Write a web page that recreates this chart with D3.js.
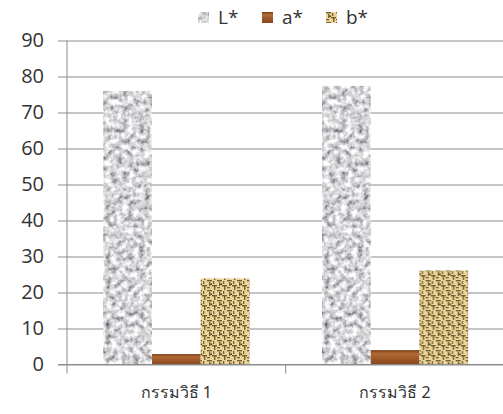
<!DOCTYPE html>
<html><head><meta charset="utf-8">
<script src="https://cdn.jsdelivr.net/npm/d3@7"></script>
<style>body{margin:0;background:#fff}svg{display:block}</style>
</head><body>
<script>
const categories = ["กรรมวิธี 1", "กรรมวิธี 2"];
const seriesNames = ["L*", "a*", "b*"];
const Lvalues = [76.0, 77.4];
const aValues = [2.9, 4.0];
const bValues = [23.9, 26.1];
const yTicks = [0,10,20,30,40,50,60,70,80,90];

const W = 503, H = 414;
const svg = d3.select("body").append("svg").attr("width", W).attr("height", H);
const defs = svg.append("defs");

// granite texture filter for L*
const fg = defs.append("filter").attr("id","granite").attr("x",0).attr("y",0).attr("width",1).attr("height",1).attr("filterUnits","objectBoundingBox");
fg.append("feTurbulence").attr("type","fractalNoise").attr("baseFrequency",0.18).attr("numOctaves",3).attr("seed",4).attr("result","n");
fg.append("feColorMatrix").attr("in","n").attr("type","matrix")
  .attr("values","1.5 0 0 0 -0.08  1.5 0 0 0 -0.08  1.5 0 0 0 -0.06  0 0 0 0 1").attr("result","g");
fg.append("feComposite").attr("in","g").attr("in2","SourceGraphic").attr("operator","in");

// brown gradient for a*
const gr = defs.append("linearGradient").attr("id","brown").attr("x1",0).attr("y1",0).attr("x2",0).attr("y2",1);
gr.append("stop").attr("offset","0%").attr("stop-color","#7a3d14");
gr.append("stop").attr("offset","25%").attr("stop-color","#b06a35");
gr.append("stop").attr("offset","60%").attr("stop-color","#9e5828");
gr.append("stop").attr("offset","100%").attr("stop-color","#8a4720");

// burlap pattern for b*
const pb = defs.append("pattern").attr("id","burlap").attr("patternUnits","userSpaceOnUse").attr("width",10).attr("height",10);
pb.append("rect").attr("width",10).attr("height",10).attr("fill","#ecd597");
const weave = [[0,0,5,1.4],[5,5,5,1.4],[2,2,1.4,4],[7,6,1.4,4],[0,7,3,1.3],[6,1,1.3,3]];
pb.selectAll("rect.w").data(weave).enter().append("rect").attr("class","w")
  .attr("x",d=>d[0]).attr("y",d=>d[1]).attr("width",d=>d[2]).attr("height",d=>d[3]).attr("fill","#5e4a26").attr("opacity",0.85);
pb.append("rect").attr("x",3.5).attr("y",3.5).attr("width",1.5).attr("height",1.5).attr("fill","#3a2e18");

const fills = {"L*": "#a8a8a8", "a*": "url(#brown)", "b*": "url(#burlap)"};
const filters = {"L*": "url(#granite)", "a*": null, "b*": null};

const y = d3.scaleLinear().domain([0,90]).range([364.5, 40.5]);
const x = d3.scaleBand().domain(categories).range([67, 504.4]).paddingInner(0).paddingOuter(0);
const bw = x.bandwidth();
const x1 = d3.scaleBand().domain(seriesNames).range([bw*0.166, bw*0.834]).padding(0);

// gridlines + y labels
const yAxis = d3.axisLeft(y).tickValues(yTicks).tickSize(-(W-58)).tickPadding(14);
const gy = svg.append("g").attr("transform","translate(58,0)").call(yAxis);
gy.select(".domain").remove();
gy.selectAll(".tick line").attr("stroke","#8c8c8c").attr("stroke-width",1);
gy.selectAll(".tick text").attr("font-family","'Open Sans', sans-serif").attr("font-size",20).attr("fill","#333");

// y axis line
svg.append("line").attr("x1",67).attr("x2",67).attr("y1",y(90)).attr("y2",y(0)+9).attr("stroke","#8c8c8c");

// bars
const rows = categories.map((c,i)=>({cat:c, vals:[Lvalues[i],aValues[i],bValues[i]]}));
const groups = svg.append("g").selectAll("g").data(rows).enter().append("g")
  .attr("transform", d=>`translate(${x(d.cat)},0)`);
groups.selectAll("rect").data(d=>seriesNames.map((s,j)=>({s, v:d.vals[j]}))).enter().append("rect")
  .attr("x", d=>x1(d.s)).attr("width", x1.bandwidth())
  .attr("y", d=>y(d.v)).attr("height", d=>y(0)-y(d.v))
  .attr("fill", d=>fills[d.s]).attr("filter", d=>filters[d.s]);

// x axis line and boundary ticks
svg.append("line").attr("x1",58).attr("x2",W).attr("y1",y(0)).attr("y2",y(0)).attr("stroke","#8c8c8c");
const bounds = categories.map(c=>x(c)).concat([x(categories[categories.length-1])+bw]);
svg.append("g").selectAll("line").data(bounds.slice(1)).enter().append("line")
  .attr("x1",d=>d).attr("x2",d=>d).attr("y1",y(0)).attr("y2",y(0)+9).attr("stroke","#8c8c8c");

// x labels
svg.append("g").selectAll("text").data(categories).enter().append("text")
  .attr("x", c=>x(c)+bw/2).attr("y", 398).attr("text-anchor","middle")
  .attr("font-family","'Noto Sans', 'DejaVu Sans', sans-serif").attr("font-size",16).attr("fill","#333")
  .text(c=>c);

// legend
const legX = [198, 262, 326];
const leg = svg.append("g").selectAll("g").data(seriesNames).enter().append("g")
  .attr("transform",(d,i)=>`translate(${legX[i]},12)`);
leg.append("rect").attr("width",11).attr("height",11).attr("fill",d=>fills[d]).attr("filter",d=>filters[d]);
leg.append("text").attr("x",20).attr("y",12).attr("font-family","'Open Sans', sans-serif").attr("font-size",19).attr("fill","#333").text(d=>d);
</script>
</body></html>
